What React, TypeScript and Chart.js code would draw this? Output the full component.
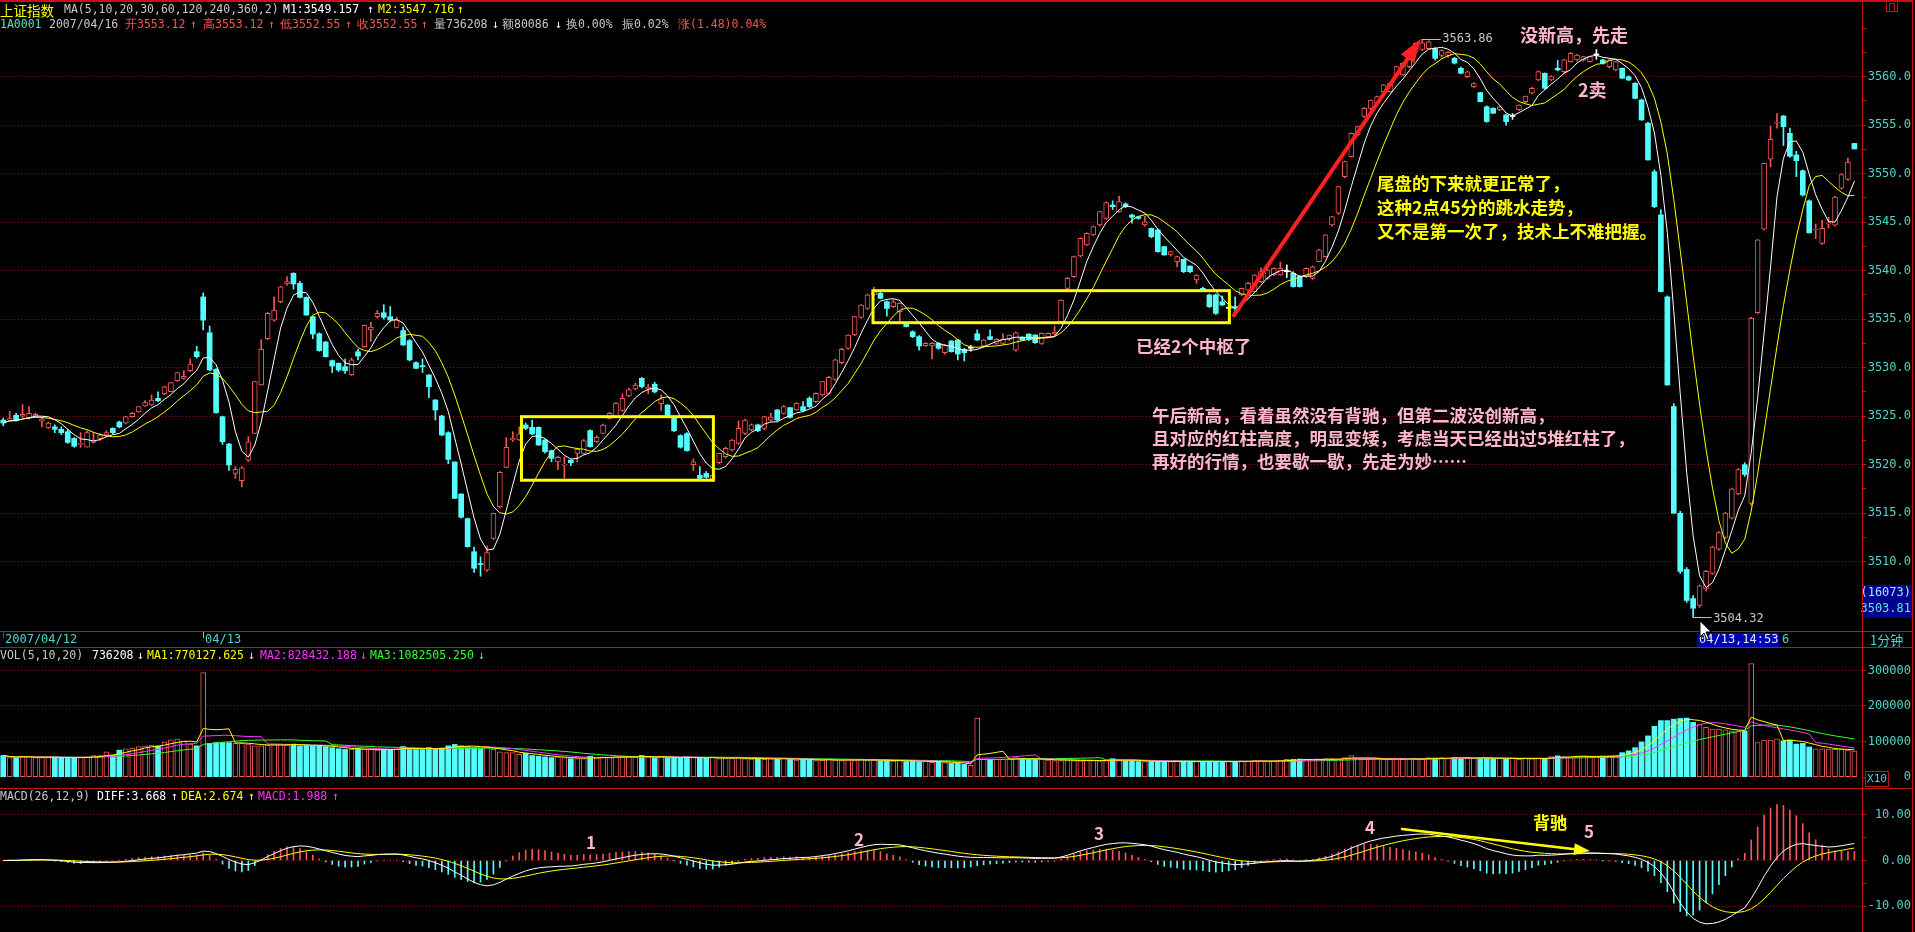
import React, { useEffect, useRef } from 'react';
import { Chart, registerables } from 'chart.js';

Chart.register(...registerables);

// ================= DATA (1-minute bars, 2007/04/12 14:30 -> 2007/04/16 09:47) =================
const opens = [
  3524.6, 3524.6, 3525.1, 3525.0, 3524.8, 3525.0, 3524.5, 3523.8, 3523.9, 3523.65,
  3523.4, 3522.7, 3522.1, 3521.8, 3522.3, 3522.7, 3523.05, 3523.75, 3524.4, 3524.27,
  3524.95, 3525.43, 3526.05, 3526.16, 3526.84, 3527.29, 3527.53, 3528.67, 3528.9, 3529.69,
  3531.65, 3537.3, 3533.6, 3529.83, 3524.95, 3522.13, 3519.11, 3518.35, 3520.48, 3523.23,
  3528.22, 3532.99, 3534.9, 3536.81, 3538.63, 3539.73, 3538.7, 3537.25, 3535.26, 3533.5,
  3532.65, 3530.73, 3530.45, 3530.11, 3529.28, 3531.65, 3532.17, 3533.9, 3535.26, 3535.67,
  3535.26, 3534.16, 3533.82, 3532.79, 3530.52, 3530.17, 3529.25, 3526.67, 3525.02, 3523.3,
  3520.28, 3516.98, 3514.44, 3511.03, 3509.8, 3509.14, 3512.41, 3515.67, 3519.73, 3522.55,
  3522.55, 3524.09, 3523.85, 3523.85, 3522.55, 3521.45, 3520.28, 3519.95, 3520.48, 3521.17,
  3521.17, 3523.51, 3522.37, 3523.23, 3524.78, 3524.95, 3525.6, 3527.1, 3527.8, 3528.9,
  3527.8, 3528.3, 3526.3, 3526.15, 3524.8, 3523.0, 3523.2, 3520.0, 3518.9, 3519.1,
  3518.5, 3520.21, 3520.83, 3521.52, 3522.2, 3523.23, 3523.58, 3524.1, 3523.75, 3524.6,
  3525.64, 3525.29, 3525.88, 3525.64, 3525.98, 3526.84, 3526.5, 3527.19, 3527.36, 3528.8,
  3530.52, 3532.0, 3533.37, 3535.19, 3536.12, 3537.5, 3537.67, 3536.8, 3536.29, 3535.77,
  3534.64, 3533.71, 3533.2, 3532.27, 3532.24, 3532.5, 3531.55, 3532.75, 3532.86, 3531.9,
  3532.0, 3533.5, 3532.24, 3533.2, 3532.5, 3532.5, 3532.92, 3531.82, 3533.13, 3533.47,
  3533.37, 3532.5, 3533.2, 3533.47, 3534.75, 3538.18, 3539.38, 3541.52, 3542.65, 3543.68,
  3544.71, 3545.4, 3546.77, 3546.09, 3546.88, 3545.74, 3545.57, 3544.71, 3544.37, 3544.2,
  3542.48, 3541.62, 3540.93, 3541.17, 3540.48, 3539.04, 3538.18, 3537.5, 3537.5, 3536.8,
  3536.12, 3536.29, 3537.5, 3538.0, 3537.84, 3538.87, 3539.21, 3539.56, 3539.56, 3539.9,
  3539.73, 3539.4, 3539.4, 3539.2, 3540.94, 3541.45, 3544.72, 3545.92, 3549.7, 3551.76,
  3554.0, 3555.9, 3556.74, 3557.26, 3558.46, 3558.46, 3560.18, 3560.18, 3561.04, 3562.6,
  3562.8, 3562.9, 3562.9, 3562.2, 3562.2, 3561.9, 3560.87, 3560.0, 3558.98, 3558.36,
  3556.9, 3556.74, 3556.57, 3556.06, 3555.9, 3556.57, 3557.43, 3558.29, 3559.66, 3560.35,
  3559.66, 3560.87, 3560.52, 3561.55, 3561.73, 3561.73, 3561.55, 3562.24, 3561.73, 3561.04,
  3560.7, 3560.87, 3560.0, 3559.32, 3557.6, 3555.2, 3550.2, 3545.75, 3537.3, 3526.0,
  3515.0, 3509.2, 3506.2, 3505.5, 3507.2, 3508.8, 3511.3, 3512.5, 3514.5, 3517.0,
  3520.0, 3516.0, 3535.67, 3544.27, 3551.5, 3555.2, 3555.95, 3554.16, 3551.93, 3550.3,
  3547.2, 3544.2, 3542.8, 3544.8, 3544.7, 3548.5, 3549.4, 3553.12,
];

const highs = [
  3524.8, 3525.5, 3525.3, 3526.2, 3526.0, 3525.3, 3524.9, 3524.4, 3524.1, 3523.9,
  3523.6, 3522.8, 3523.3, 3523.5, 3523.3, 3523.2, 3523.5, 3523.8, 3524.5, 3525.0,
  3525.4, 3526.0, 3526.6, 3527.2, 3527.5, 3528.1, 3528.5, 3529.5, 3529.7, 3530.9,
  3532.2, 3537.7, 3534.3, 3529.9, 3525.0, 3522.2, 3519.8, 3519.8, 3522.9, 3528.6,
  3532.9, 3535.7, 3537.3, 3538.4, 3539.4, 3539.8, 3538.9, 3537.3, 3535.3, 3533.6,
  3532.7, 3530.8, 3530.5, 3530.9, 3531.0, 3531.9, 3534.4, 3534.7, 3535.9, 3536.5,
  3536.3, 3535.2, 3534.2, 3532.9, 3530.6, 3530.9, 3529.3, 3526.7, 3525.1, 3523.4,
  3520.3, 3517.0, 3514.5, 3511.5, 3510.5, 3511.6, 3515.0, 3519.3, 3522.8, 3523.4,
  3523.9, 3524.3, 3524.6, 3523.9, 3522.6, 3521.5, 3520.9, 3520.8, 3520.5, 3521.7,
  3522.6, 3523.6, 3523.0, 3524.2, 3525.4, 3526.4, 3527.3, 3527.9, 3528.4, 3529.0,
  3528.3, 3528.5, 3527.2, 3526.2, 3524.9, 3523.1, 3523.3, 3520.6, 3519.8, 3519.3,
  3519.0, 3521.2, 3521.8, 3522.6, 3524.5, 3524.7, 3524.2, 3524.2, 3525.0, 3525.3,
  3525.7, 3526.1, 3525.9, 3526.4, 3526.5, 3527.0, 3527.4, 3528.6, 3529.1, 3530.9,
  3532.0, 3533.4, 3535.3, 3536.5, 3537.6, 3538.3, 3537.8, 3536.9, 3537.0, 3536.7,
  3534.7, 3533.8, 3533.3, 3532.6, 3532.6, 3532.6, 3532.4, 3532.8, 3532.9, 3532.0,
  3532.3, 3533.9, 3532.9, 3533.9, 3533.0, 3533.5, 3533.4, 3533.7, 3533.2, 3533.5,
  3533.4, 3533.6, 3533.6, 3534.3, 3537.0, 3539.3, 3541.5, 3543.4, 3543.9, 3544.6,
  3546.1, 3547.1, 3547.2, 3547.7, 3547.0, 3545.8, 3545.6, 3545.6, 3544.4, 3544.3,
  3542.5, 3542.0, 3541.5, 3541.2, 3540.5, 3539.6, 3538.3, 3537.6, 3537.6, 3537.4,
  3536.5, 3537.3, 3538.2, 3538.8, 3539.6, 3540.3, 3540.6, 3540.3, 3540.9, 3540.6,
  3539.9, 3539.5, 3540.3, 3540.5, 3542.2, 3543.7, 3545.6, 3548.7, 3551.3, 3554.2,
  3554.9, 3556.8, 3557.6, 3558.0, 3559.2, 3559.4, 3561.1, 3561.4, 3562.3, 3563.5,
  3563.86, 3563.7, 3563.0, 3562.8, 3562.6, 3562.0, 3561.0, 3560.6, 3559.4, 3558.4,
  3557.0, 3556.8, 3557.0, 3556.1, 3556.2, 3557.1, 3558.0, 3558.9, 3560.6, 3560.4,
  3560.1, 3561.7, 3561.8, 3562.5, 3562.3, 3562.1, 3562.1, 3562.8, 3561.8, 3561.8,
  3561.6, 3560.9, 3560.1, 3559.4, 3557.7, 3555.3, 3550.4, 3546.3, 3537.4, 3526.3,
  3515.2, 3509.4, 3506.5, 3507.6, 3509.1, 3511.6, 3513.1, 3515.1, 3517.6, 3519.6,
  3520.2, 3535.2, 3543.2, 3551.1, 3554.9, 3556.2, 3556.0, 3554.7, 3552.3, 3550.4,
  3547.3, 3544.8, 3545.2, 3545.5, 3547.7, 3550.0, 3551.6, 3553.12,
];

const lows = [
  3524.0, 3524.5, 3524.5, 3524.9, 3524.7, 3524.9, 3523.9, 3523.7, 3523.3, 3523.1,
  3522.2, 3521.8, 3521.8, 3521.8, 3522.2, 3522.5, 3522.9, 3523.2, 3523.8, 3524.2,
  3524.9, 3525.4, 3526.0, 3526.1, 3526.5, 3527.2, 3527.5, 3528.6, 3528.8, 3529.6,
  3531.0, 3533.9, 3529.7, 3525.3, 3522.1, 3519.4, 3518.6, 3517.7, 3520.3, 3523.2,
  3528.2, 3532.9, 3534.8, 3536.7, 3538.5, 3538.1, 3537.2, 3535.4, 3533.0, 3531.7,
  3531.1, 3529.5, 3529.6, 3529.4, 3529.2, 3530.8, 3532.1, 3532.7, 3535.1, 3535.0,
  3534.7, 3534.1, 3532.3, 3530.7, 3529.9, 3529.5, 3526.9, 3524.6, 3523.0, 3520.1,
  3516.5, 3514.5, 3511.5, 3508.9, 3508.5, 3509.0, 3512.3, 3515.6, 3519.7, 3522.4,
  3522.5, 3523.6, 3523.1, 3522.0, 3521.2, 3520.3, 3519.5, 3518.6, 3519.9, 3520.3,
  3521.1, 3521.8, 3522.3, 3523.2, 3524.7, 3524.9, 3525.5, 3527.0, 3527.7, 3527.9,
  3527.3, 3527.4, 3525.6, 3525.0, 3523.4, 3521.7, 3521.4, 3519.4, 3518.5, 3518.6,
  3518.3, 3520.1, 3520.7, 3521.4, 3522.1, 3523.1, 3523.5, 3523.4, 3523.6, 3524.5,
  3524.5, 3525.2, 3524.8, 3525.6, 3525.5, 3525.9, 3526.4, 3527.1, 3527.3, 3528.7,
  3530.4, 3531.9, 3533.3, 3535.1, 3536.0, 3537.4, 3537.1, 3535.3, 3536.2, 3534.8,
  3534.2, 3533.1, 3531.8, 3532.2, 3530.9, 3531.9, 3531.4, 3531.6, 3530.8, 3530.7,
  3531.7, 3532.8, 3532.1, 3532.9, 3532.4, 3532.4, 3532.8, 3531.7, 3532.8, 3532.8,
  3532.5, 3532.4, 3533.1, 3533.4, 3534.7, 3538.1, 3539.3, 3541.4, 3542.6, 3543.6,
  3544.6, 3545.3, 3546.3, 3546.0, 3546.5, 3544.9, 3545.3, 3544.6, 3543.4, 3541.9,
  3541.6, 3541.5, 3540.4, 3539.8, 3539.8, 3538.7, 3537.9, 3536.2, 3535.5, 3536.4,
  3535.8, 3535.8, 3537.4, 3537.9, 3537.8, 3538.8, 3539.1, 3539.5, 3539.5, 3539.3,
  3538.3, 3538.3, 3539.3, 3539.1, 3540.9, 3541.4, 3544.6, 3545.8, 3549.6, 3551.7,
  3553.9, 3555.8, 3556.6, 3557.2, 3558.4, 3558.4, 3560.1, 3560.1, 3560.9, 3562.5,
  3562.7, 3562.8, 3561.7, 3562.0, 3562.0, 3561.3, 3560.3, 3559.9, 3558.9, 3557.4,
  3555.3, 3556.2, 3556.5, 3555.0, 3555.6, 3556.5, 3557.3, 3558.2, 3559.6, 3558.7,
  3559.6, 3560.6, 3560.4, 3561.5, 3561.6, 3561.6, 3561.5, 3561.8, 3561.3, 3560.9,
  3560.6, 3559.8, 3559.6, 3557.7, 3555.5, 3551.4, 3546.5, 3537.8, 3528.2, 3515.0,
  3508.8, 3505.8, 3504.32, 3505.3, 3507.0, 3508.7, 3511.2, 3512.4, 3514.4, 3516.9,
  3518.8, 3515.8, 3535.6, 3544.2, 3550.7, 3554.7, 3552.9, 3551.7, 3549.7, 3547.7,
  3543.9, 3543.3, 3542.7, 3544.4, 3544.6, 3548.4, 3549.3, 3552.55,
];

const closes = [
  3524.3, 3524.75, 3524.6, 3525.2, 3525.3, 3525.2, 3524.7, 3524.3, 3523.65, 3523.3,
  3522.3, 3521.9, 3522.15, 3523.3, 3522.55, 3523.05, 3523.3, 3523.3, 3523.9, 3524.95,
  3525.3, 3525.98, 3526.4, 3526.67, 3526.6, 3528.04, 3528.46, 3529.49, 3529.1, 3530.38,
  3531.14, 3534.9, 3529.76, 3525.36, 3522.37, 3519.97, 3519.52, 3519.69, 3522.37, 3528.56,
  3531.9, 3535.6, 3535.95, 3538.35, 3538.87, 3538.63, 3537.25, 3535.43, 3533.47, 3531.76,
  3531.14, 3530.17, 3529.76, 3529.69, 3530.8, 3531.2, 3534.37, 3534.2, 3535.6, 3535.2,
  3534.92, 3534.92, 3532.34, 3530.8, 3529.93, 3530.11, 3528.04, 3525.64, 3523.06, 3520.55,
  3516.53, 3514.58, 3511.55, 3509.32, 3509.7, 3510.93, 3514.99, 3519.21, 3521.79, 3522.72,
  3523.17, 3523.75, 3523.17, 3522.03, 3521.34, 3520.66, 3520.76, 3520.0, 3520.21, 3521.58,
  3522.48, 3521.86, 3522.82, 3524.09, 3525.3, 3526.33, 3526.85, 3527.75, 3528.2, 3528.05,
  3528.0, 3527.5, 3526.8, 3525.1, 3523.5, 3521.8, 3521.45, 3520.3, 3518.6, 3518.7,
  3518.9, 3521.17, 3521.69, 3522.55, 3523.75, 3524.61, 3524.1, 3523.5, 3524.95, 3524.9,
  3524.61, 3525.98, 3524.88, 3526.33, 3525.57, 3525.98, 3527.36, 3528.56, 3529.0, 3530.8,
  3531.9, 3533.37, 3535.26, 3536.46, 3537.5, 3538.0, 3537.15, 3536.12, 3536.8, 3536.63,
  3534.23, 3533.2, 3532.24, 3532.5, 3532.5, 3532.0, 3532.34, 3531.65, 3531.41, 3531.55,
  3532.0, 3532.85, 3532.86, 3532.92, 3532.92, 3532.92, 3533.37, 3533.6, 3532.86, 3532.92,
  3532.58, 3533.54, 3533.54, 3533.68, 3536.98, 3539.21, 3541.45, 3543.34, 3543.85, 3544.54,
  3546.09, 3547.01, 3546.6, 3547.12, 3546.6, 3545.5, 3545.4, 3545.05, 3543.5, 3541.96,
  3541.62, 3541.96, 3541.45, 3539.9, 3539.9, 3539.56, 3538.0, 3536.29, 3535.6, 3536.46,
  3536.12, 3536.12, 3538.18, 3538.7, 3539.56, 3539.9, 3540.07, 3540.24, 3540.24, 3539.9,
  3538.36, 3538.36, 3540.25, 3540.4, 3542.14, 3543.7, 3545.58, 3548.67, 3551.25, 3554.17,
  3554.86, 3556.74, 3557.6, 3557.95, 3559.15, 3559.32, 3561.04, 3561.38, 3562.24, 3563.44,
  3563.5, 3563.6, 3561.9, 3562.7, 3562.5, 3561.4, 3560.35, 3560.5, 3559.3, 3557.43,
  3555.37, 3556.23, 3556.9, 3555.37, 3555.9, 3557.08, 3558.0, 3558.8, 3560.52, 3558.8,
  3560.0, 3560.7, 3561.73, 3562.4, 3562.24, 3562.07, 3562.07, 3562.24, 3561.38, 3561.73,
  3561.55, 3559.84, 3559.66, 3557.77, 3555.54, 3551.42, 3546.6, 3537.85, 3528.22, 3515.0,
  3509.0, 3506.0, 3505.2, 3507.5, 3509.0, 3511.5, 3513.0, 3515.0, 3517.5, 3519.5,
  3519.0, 3535.1, 3543.17, 3551.07, 3553.54, 3555.3, 3554.85, 3551.8, 3551.34, 3547.8,
  3543.9, 3544.3, 3544.36, 3544.9, 3547.6, 3549.9, 3551.2, 3552.55,
];

// volume (shown /10 as on the X10 axis)
const volumes = [
  61000, 55000, 55000, 58000, 58000, 55000, 55000, 55000, 57000, 55000,
  55000, 55000, 55000, 57000, 61000, 61000, 71000, 61000, 76000, 80000,
  82000, 86000, 88000, 90000, 88000, 99000, 105000, 107000, 102000, 93000,
  88000, 294000, 95000, 97000, 97000, 97000, 95000, 95000, 93000, 88000,
  88000, 90000, 93000, 93000, 90000, 93000, 88000, 90000, 88000, 88000,
  86000, 83000, 80000, 78000, 78000, 80000, 78000, 78000, 76000, 78000,
  78000, 80000, 86000, 80000, 78000, 78000, 83000, 80000, 82000, 88000,
  92000, 88000, 86000, 83000, 80000, 86000, 78000, 71000, 69000, 69000,
  64000, 67000, 61000, 59000, 57000, 55000, 57000, 55000, 52000, 52000,
  52000, 59000, 55000, 57000, 55000, 57000, 59000, 57000, 57000, 61000,
  57000, 55000, 58000, 55000, 56000, 54000, 57000, 55000, 53000, 54000,
  56000, 52000, 54000, 53000, 55000, 52000, 51000, 53000, 50000, 52000,
  51000, 53000, 50000, 48000, 50000, 49000, 47000, 48000, 50000, 48000,
  47000, 49000, 48000, 50000, 47000, 48000, 46000, 48000, 45000, 47000,
  44000, 46000, 43000, 45000, 42000, 44000, 41000, 39000, 39000, 36000,
  33000, 166000, 50000, 50000, 50000, 50000, 52000, 55000, 52000, 50000,
  50000, 50000, 48000, 47000, 47000, 48000, 47000, 46000, 47000, 47000,
  46000, 47000, 52000, 47000, 47000, 47000, 44000, 44000, 44000, 44000,
  44000, 44000, 45000, 44000, 44000, 44000, 44000, 45000, 44000, 44000,
  44000, 44000, 46000, 45000, 47000, 46000, 44000, 45000, 47000, 50000,
  50000, 51000, 50000, 49000, 50000, 52000, 52000, 50000, 55000, 61000,
  53000, 52000, 50000, 52000, 50000, 51000, 52000, 50000, 52000, 51000,
  50000, 55000, 54000, 55000, 53000, 55000, 54000, 55000, 53000, 54000,
  55000, 52000, 53000, 52000, 53000, 51000, 53000, 52000, 53000, 52000,
  58000, 60000, 58000, 57000, 59000, 60000, 58000, 57000, 59000, 60000,
  61000, 69000, 74000, 83000, 99000, 116000, 143000, 159000, 159000, 163000,
  165000, 166000, 154000, 149000, 140000, 135000, 135000, 133000, 130000, 130000,
  130000, 319000, 97000, 104000, 104000, 108000, 102000, 104000, 93000, 95000,
  85000, 80000, 80000, 79000, 78000, 78000, 76000, 73621,
];

// volume bars whose colour differs from their candle: [index, 1 = red / 0 = cyan]
const volColorOverrides = [[31, 1], [151, 1], [270, 0], [287, 1]];

const dayStarts = [0, 31];
const dayLabels = ['2007/04/12', '04/13'];
const priceTickLabels = [3510, 3515, 3520, 3525, 3530, 3535, 3540, 3545, 3550, 3555, 3560];
const volTickLabels = [0, 100000, 200000, 300000];
const macdTickLabels = [-10, 0, 10];

// ================= helpers =================
const RED = '#f25656';
const CYAN = '#54fcfc';
const FRAME = '#c41212';
const GRID = '#8a0000';
const AXIS_TXT = '#4fd4cc';
const PINK = '#ffb6c9';
const MONO = '"DejaVu Sans Mono", "Liberation Mono", monospace';
const CJK = '"Noto Sans CJK SC", "Noto Sans", sans-serif';
const X_MIN = -0.5;
const X_MAX = 288.18;

function sma(a: number[], n: number) {
  return a.map((_, i) => {
    const s = Math.max(0, i - n + 1);
    let t = 0;
    for (let k = s; k <= i; k++) t += a[k];
    return t / (i - s + 1);
  });
}
function ema(a: number[], n: number) {
  const out: number[] = [];
  a.forEach((v, i) => out.push(i === 0 ? v : (2 * v + (n - 1) * out[i - 1]) / (n + 1)));
  return out;
}

const ma5 = sma(closes, 5);
const ma10 = sma(closes, 10);
const vMa5 = sma(volumes, 5);
const vMa10 = sma(volumes, 10);
const vMa20 = sma(volumes, 20);
const e12 = ema(closes, 12);
const e26 = ema(closes, 26);
const diff = e12.map((v, i) => v - e26[i]);
const dea = ema(diff, 9);
const macd = diff.map((v, i) => 2 * (v - dea[i]));

const candleCol = closes.map((c, i) => (c > opens[i] ? RED : c < opens[i] ? CYAN : '#ffffff'));
const volUp = volumes.map((_, i) => {
  const o = volColorOverrides.find((e) => e[0] === i);
  return o ? o[1] === 1 : closes[i] >= opens[i];
});

const xScale: any = { type: 'linear', min: X_MIN, max: X_MAX, display: false, offset: false, grid: { display: false } };

function rightAxis(min: number, max: number, ticks: number[], gridVals: number[], fmt: (v: number) => string) {
  return {
    type: 'linear',
    position: 'right',
    min,
    max,
    afterBuildTicks: (s: any) => {
      s.ticks = ticks.map((v) => ({ value: v }));
    },
    afterFit: (s: any) => {
      s.width = 49;
      s.paddingTop = 0;
      s.paddingBottom = 0;
    },
    ticks: {
      autoSkip: false,
      padding: 2,
      crossAlign: 'far',
      color: AXIS_TXT,
      font: { family: MONO, size: 12 },
      callback: (v: any) => fmt(Number(v)),
    },
    grid: {
      drawTicks: true,
      tickLength: 4,
      tickColor: FRAME,
      tickBorderDash: [],
      lineWidth: 1,
      color: (c: any) => (c.tick && gridVals.includes(c.tick.value) ? GRID : 'rgba(0,0,0,0)'),
    },
    border: { display: false, dash: [1, 2] },
  };
}

function txt(ctx: CanvasRenderingContext2D, s: string, x: number, y: number, color: string, font: string, align: CanvasTextAlign = 'left') {
  ctx.font = font;
  ctx.fillStyle = color;
  ctx.textAlign = align;
  ctx.textBaseline = 'middle';
  ctx.fillText(s, x, y);
}

function arrow(ctx: CanvasRenderingContext2D, x1: number, y1: number, x2: number, y2: number, color: string, w: number, hl: number, hw: number) {
  const a = Math.atan2(y2 - y1, x2 - x1);
  const c = Math.cos(a), s = Math.sin(a);
  ctx.strokeStyle = color;
  ctx.lineWidth = w;
  ctx.lineCap = 'round';
  ctx.beginPath();
  ctx.moveTo(x1, y1);
  ctx.lineTo(x2 - hl * 0.8 * c, y2 - hl * 0.8 * s);
  ctx.stroke();
  ctx.fillStyle = color;
  ctx.beginPath();
  ctx.moveTo(x2, y2);
  ctx.lineTo(x2 - hl * c + hw * s, y2 - hl * s - hw * c);
  ctx.lineTo(x2 - hl * c - hw * s, y2 - hl * s + hw * c);
  ctx.closePath();
  ctx.fill();
}

function frame(ctx: CanvasRenderingContext2D, h: number) {
  ctx.fillStyle = FRAME;
  ctx.fillRect(1862, 0, 1, h);
  ctx.fillRect(1912, 0, 1, h);
}

function cursor(ctx: CanvasRenderingContext2D, x: number, y: number) {
  const p = [[0, 0], [0, 16], [4, 12], [7, 19], [9, 18], [6, 11], [11, 11]];
  ctx.beginPath();
  p.forEach(([a, b], i) => (i ? ctx.lineTo(x + a, y + b) : ctx.moveTo(x + a, y + b)));
  ctx.closePath();
  ctx.fillStyle = '#ffffff';
  ctx.fill();
  ctx.strokeStyle = '#000000';
  ctx.lineWidth = 1;
  ctx.stroke();
}

const HEAD_FONT = `11.5px ${MONO}`;

const mainDeco = {
  id: 'mainDeco',
  afterDraw(chart: any) {
    const { ctx } = chart;
    const xs = chart.scales.x;
    const ys = chart.scales.y;
    const px = (i: number) => xs.getPixelForValue(i);
    const py = (p: number) => ys.getPixelForValue(p);
    ctx.save();

    // central-zone boxes
    ctx.strokeStyle = '#ffff00';
    ctx.lineWidth = 3;
    const boxes = [
      [80.35, 110.1, 3518.4, 3524.95],
      [134.85, 190.1, 3534.64, 3537.94],
    ];
    boxes.forEach(([a, b, lo, hi]) => ctx.strokeRect(px(a), py(hi), px(b) - px(a), py(lo) - py(hi)));

    // red arrow
    arrow(ctx, px(190.8), py(3535.4), px(219.8), py(3563.9), '#ff2020', 4, 24, 8);

    // high / low markers
    const hiV = Math.max(...highs);
    const hiI = highs.indexOf(hiV);
    const loV = Math.min(...lows);
    const loI = lows.indexOf(loV);
    ctx.strokeStyle = '#bdbdbd';
    ctx.lineWidth = 1;
    ctx.beginPath();
    ctx.moveTo(px(hiI), Math.round(py(hiV)) + 0.5);
    ctx.lineTo(px(hiI) + 18, Math.round(py(hiV)) + 0.5);
    ctx.moveTo(px(loI), Math.round(py(loV)) + 0.5);
    ctx.lineTo(px(loI) + 18, Math.round(py(loV)) + 0.5);
    ctx.stroke();
    txt(ctx, hiV.toFixed(2), px(hiI) + 20, py(hiV), '#c8c8c8', `12px ${MONO}`);
    txt(ctx, loV.toFixed(2), px(loI) + 20, py(loV) + 2, '#c8c8c8', `12px ${MONO}`);

    // annotations
    const B = `bold 18px ${CJK}`;
    const B2 = `bold 17.5px ${CJK}`;
    txt(ctx, '没新高，先走', 1520, 35, PINK, B);
    txt(ctx, '2卖', 1578, 90, PINK, B);
    txt(ctx, '尾盘的下来就更正常了，', 1377, 183, '#ffff00', B2);
    txt(ctx, '这种2点45分的跳水走势，', 1377, 207, '#ffff00', B2);
    txt(ctx, '又不是第一次了，技术上不难把握。', 1377, 231, '#ffff00', B2);
    txt(ctx, '已经2个中枢了', 1136, 346, PINK, B2);
    txt(ctx, '午后新高，看着虽然没有背驰，但第二波没创新高，', 1152, 415, PINK, B2);
    txt(ctx, '且对应的红柱高度，明显变矮，考虑当天已经出过5堆红柱了，', 1152, 438, PINK, B2);
    txt(ctx, '再好的行情，也要歇一歇，先走为妙……', 1152, 461, PINK, B2);

    // header line 1
    txt(ctx, '上证指数', 0, 10.5, '#ffff00', `13.5px ${CJK}`);
    const h1: [string, number, string][] = [
      ['MA(5,10,20,30,60,120,240,360,2)', 64, '#c8c8c8'],
      ['M1:3549.157', 283, '#ffffff'],
      ['↑', 367, '#ffffff'],
      ['M2:3547.716', 378, '#ffff00'],
      ['↑', 457, '#ffff00'],
    ];
    h1.forEach(([s, x, c]) => txt(ctx, s, x, 10.5, c, HEAD_FONT));
    const h2: [string, number, string][] = [
      ['1A0001', 0, '#5ce0b8'],
      ['2007/04/16', 49, '#c8c8c8'],
      ['开3553.12', 125, RED],
      ['↑', 190, RED],
      ['高3553.12', 203, RED],
      ['↑', 268, RED],
      ['低3552.55', 280, RED],
      ['↑', 345, RED],
      ['收3552.55', 357, RED],
      ['↑', 421, RED],
      ['量736208', 434, '#c8c8c8'],
      ['↓', 492, '#ffffff'],
      ['额80086', 502, '#c8c8c8'],
      ['↓', 555, '#ffffff'],
      ['换0.00%', 566, '#c8c8c8'],
      ['振0.02%', 622, '#c8c8c8'],
      ['涨(1.48)0.04%', 678, RED],
    ];
    h2.forEach(([s, x, c]) => txt(ctx, s, x, 25, c, HEAD_FONT));

    // axis info box
    ctx.fillStyle = '#00008c';
    ctx.fillRect(1864, 585, 48, 33);
    txt(ctx, '(16073)', 1911, 593, '#9fe6ff', `12px ${MONO}`, 'right');
    txt(ctx, '3503.81', 1911, 609, '#5fe8e8', `12px ${MONO}`, 'right');

    // frame
    frame(ctx, 632);
    ctx.fillStyle = FRAME;
    ctx.fillRect(0, 0, 1913, 2);
    ctx.fillRect(0, 631, 1913, 1);
    ctx.strokeStyle = FRAME;
    ctx.strokeRect(1886.5, 0.5, 11, 11);
    ctx.strokeRect(1889.5, 3.5, 5, 8);

    cursor(ctx, 1700, 621);
    ctx.restore();
  },
};

const volDeco = {
  id: 'volDeco',
  afterDraw(chart: any) {
    const { ctx } = chart;
    const xs = chart.scales.x;
    ctx.save();
    // date bar
    ctx.fillStyle = FRAME;
    ctx.fillRect(0, 15, 1913, 1);
    dayStarts.forEach((d, k) => {
      const x = Math.round(xs.getPixelForValue(d));
      ctx.fillRect(x, 0, 1, 6);
      txt(ctx, dayLabels[k], x + 2, 8, AXIS_TXT, `12px ${MONO}`);
    });
    ctx.fillStyle = '#0000b4';
    ctx.fillRect(1697, 1, 82, 14);
    txt(ctx, '04/13,14:53', 1699, 8, '#e8e8ff', `12px ${MONO}`);
    txt(ctx, '6', 1782, 8, AXIS_TXT, `12px ${MONO}`);
    txt(ctx, '1分钟', 1870, 8, AXIS_TXT, `13px ${CJK}`);

    // header
    const h: [string, number, string][] = [
      ['VOL(5,10,20)', 0, '#c8c8c8'],
      ['736208', 92, '#ffffff'],
      ['↓', 137, '#ffffff'],
      ['MA1:770127.625', 147, '#ffff00'],
      ['↓', 248, '#ffff00'],
      ['MA2:828432.188', 260, '#ff32ff'],
      ['↓', 360, '#ff32ff'],
      ['MA3:1082505.250', 370, '#32ff32'],
      ['↓', 478, '#32ff32'],
    ];
    h.forEach(([s, x, c]) => txt(ctx, s, x, 24, c, HEAD_FONT));

    // X10 box
    ctx.strokeStyle = FRAME;
    ctx.lineWidth = 1;
    ctx.strokeRect(1865.5, 139.5, 23, 15);
    txt(ctx, 'X10', 1877, 147, AXIS_TXT, `11px ${MONO}`, 'center');

    frame(ctx, 156);
    cursor(ctx, 1700, -11);
    ctx.restore();
  },
};

const macdDeco = {
  id: 'macdDeco',
  afterDraw(chart: any) {
    const { ctx } = chart;
    ctx.save();
    ctx.fillStyle = FRAME;
    ctx.fillRect(0, 0, 1913, 1);
    const h: [string, number, string][] = [
      ['MACD(26,12,9)', 0, '#c8c8c8'],
      ['DIFF:3.668', 97, '#ffffff'],
      ['↑', 171, '#ffffff'],
      ['DEA:2.674', 181, '#ffff00'],
      ['↑', 248, '#ffff00'],
      ['MACD:1.988', 258, '#ff32ff'],
      ['↑', 332, '#ff32ff'],
    ];
    h.forEach(([s, x, c]) => txt(ctx, s, x, 9, c, HEAD_FONT));

    const F = `bold 17px ${CJK}`;
    txt(ctx, '1', 591, 55, PINK, F, 'center');
    txt(ctx, '2', 859, 52, PINK, F, 'center');
    txt(ctx, '3', 1099, 46, PINK, F, 'center');
    txt(ctx, '4', 1370, 40, PINK, F, 'center');
    txt(ctx, '5', 1589, 44, PINK, F, 'center');
    txt(ctx, '背驰', 1533, 35, '#ffff00', F);
    arrow(ctx, 1402, 41, 1590, 63, '#ffff00', 2.5, 16, 6);
    frame(ctx, 144);
    ctx.restore();
  },
};

function baseOptions(yAxis: any, padTop: number) {
  return {
    responsive: false,
    animation: false,
    devicePixelRatio: 1,
    events: [],
    layout: { padding: { left: 0, right: 4, top: padTop, bottom: 0 } },
    plugins: { legend: { display: false }, tooltip: { enabled: false } },
    scales: { x: xScale, y: yAxis },
  };
}

function lineDs(vals: number[], color: string, order: number) {
  return {
    type: 'line',
    data: vals.map((v, i) => ({ x: i, y: v })),
    borderColor: color,
    borderWidth: 1,
    pointRadius: 0,
    tension: 0,
    order,
  };
}

export default function App() {
  const mainRef = useRef<HTMLCanvasElement>(null);
  const volRef = useRef<HTMLCanvasElement>(null);
  const macdRef = useRef<HTMLCanvasElement>(null);

  useEffect(() => {
    document.body.style.margin = '0';
    document.body.style.background = '#000';

    // ---------- main price panel ----------
    const minor: number[] = [];
    for (let v = 3505; v <= 3565; v += 2.5) minor.push(v);
    const mainY = rightAxis(3502.753, 3567.907, minor, priceTickLabels, (v) =>
      priceTickLabels.includes(v) ? v.toFixed(1) : ''
    );
    const main = new Chart(mainRef.current as HTMLCanvasElement, {
      type: 'bar',
      data: {
        datasets: [
          lineDs(ma5, '#ffffff', 0),
          lineDs(ma10, '#ffff00', 1),
          {
            type: 'bar',
            data: closes.map((c, i) => ({ x: i, y: [Math.min(opens[i], c), Math.max(opens[i], c)] })),
            backgroundColor: closes.map((c, i) => (c > opens[i] ? '#000000' : candleCol[i])),
            borderColor: candleCol,
            borderWidth: closes.map((c, i) => (c > opens[i] ? 1 : 0)),
            borderSkipped: false,
            barThickness: 5,
            minBarLength: 1,
            grouped: false,
            order: 2,
          },
          {
            type: 'bar',
            data: closes.map((_, i) => ({ x: i, y: [lows[i], highs[i]] })),
            backgroundColor: candleCol,
            borderWidth: 0,
            barThickness: 1,
            grouped: false,
            order: 3,
          },
        ] as any,
      },
      options: baseOptions(mainY, 0) as any,
      plugins: [mainDeco],
    });

    // ---------- volume panel ----------
    const volY = rightAxis(-30337, 362921, volTickLabels, [100000, 200000, 300000], (v) => String(v));
    const vol = new Chart(volRef.current as HTMLCanvasElement, {
      type: 'bar',
      data: {
        datasets: [
          lineDs(vMa5, '#ffff00', 0),
          lineDs(vMa10, '#ff32ff', 1),
          lineDs(vMa20, '#32ff32', 2),
          {
            type: 'bar',
            data: volumes.map((v, i) => ({ x: i, y: v })),
            backgroundColor: volUp.map((u) => (u ? '#000000' : CYAN)),
            borderColor: volUp.map((u) => (u ? RED : CYAN)),
            borderWidth: volUp.map((u) => (u ? 1 : 0)),
            borderSkipped: false,
            barThickness: 5,
            grouped: false,
            order: 3,
          },
        ] as any,
      },
      options: baseOptions(volY, 16) as any,
      plugins: [volDeco],
    });

    // ---------- MACD panel ----------
    const macdY = rightAxis(-15.646, 15.864, [-10, -5, 0, 5, 10], macdTickLabels, (v) =>
      macdTickLabels.includes(v) ? v.toFixed(2) : ''
    );
    const md = new Chart(macdRef.current as HTMLCanvasElement, {
      type: 'bar',
      data: {
        datasets: [
          lineDs(diff, '#ffffff', 0),
          lineDs(dea, '#ffff00', 1),
          {
            type: 'bar',
            data: macd.map((v, i) => ({ x: i, y: v })),
            backgroundColor: macd.map((v) => (v >= 0 ? RED : CYAN)),
            borderWidth: 0,
            barThickness: 1,
            grouped: false,
            order: 3,
          },
        ] as any,
      },
      options: baseOptions(macdY, 0) as any,
      plugins: [macdDeco],
    });

    return () => {
      main.destroy();
      vol.destroy();
      md.destroy();
    };
  }, []);

  return (
    <div style={{ position: 'relative', width: 1915, height: 932, background: '#000', overflow: 'hidden' }}>
      <canvas ref={mainRef} width={1915} height={632} style={{ position: 'absolute', left: 0, top: 0 }} />
      <canvas ref={volRef} width={1915} height={156} style={{ position: 'absolute', left: 0, top: 632 }} />
      <canvas ref={macdRef} width={1915} height={144} style={{ position: 'absolute', left: 0, top: 788 }} />
    </div>
  );
}
